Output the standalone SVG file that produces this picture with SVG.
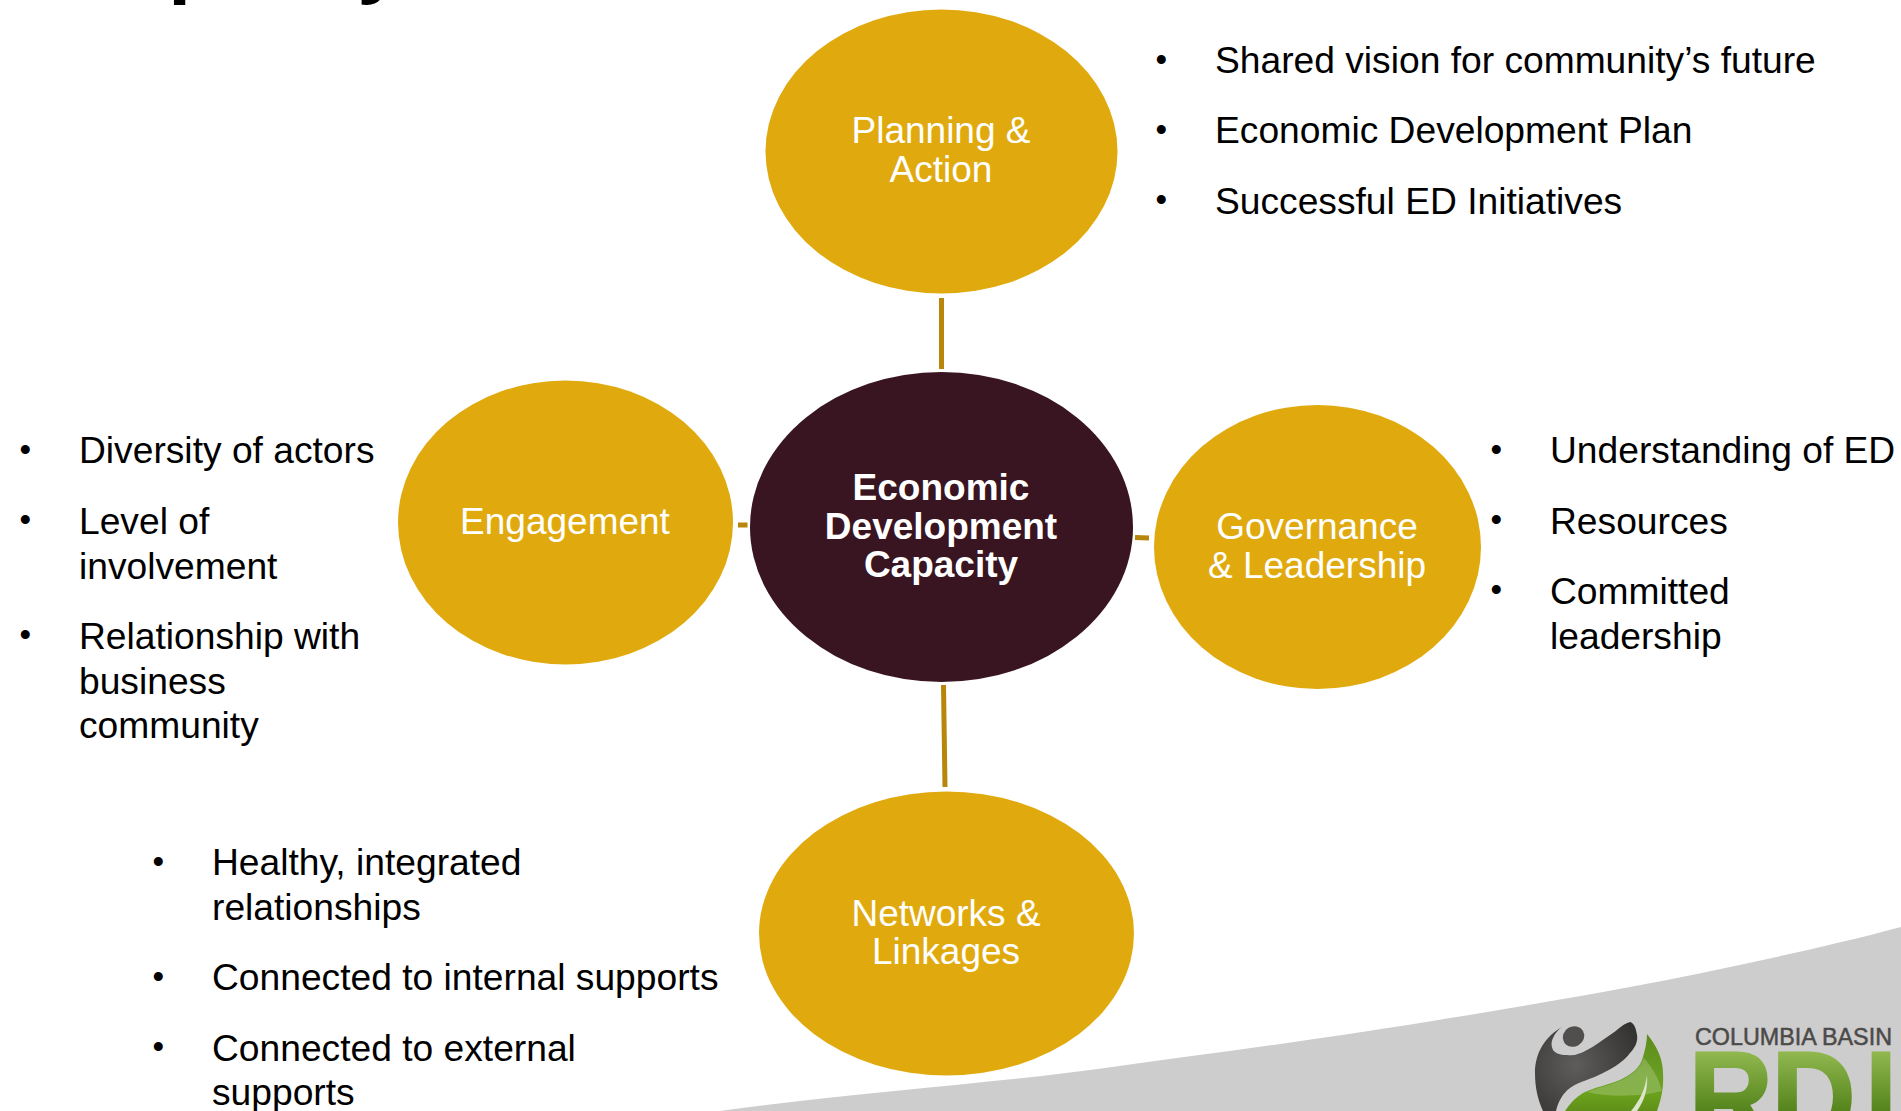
<svg xmlns="http://www.w3.org/2000/svg" width="1901" height="1111" viewBox="0 0 1901 1111">
<style>
text{font-family:"Liberation Sans",Arial,sans-serif}
.g{fill:#e0aa0f}
.n{fill:#fff;font-size:37px;text-anchor:middle}
.c{fill:#fff;font-size:37px;font-weight:bold;text-anchor:middle}
.b{fill:#000;font-size:37.2px}
.d{fill:#000;font-size:33px}
.t{font-family:"Open Sans",sans-serif;font-weight:bold;font-size:76px}
.l{stroke:#b8860b;stroke-width:5;fill:none}
</style>
<defs>
<linearGradient id="gr" gradientUnits="userSpaceOnUse" x1="0" y1="1052" x2="0" y2="1111"><stop offset="0" stop-color="#90b84f"/><stop offset="1" stop-color="#55841c"/></linearGradient>
<linearGradient id="gl" gradientUnits="userSpaceOnUse" x1="0" y1="1034" x2="0" y2="1111"><stop offset="0" stop-color="#5c8c1c"/><stop offset="0.55" stop-color="#6a9e22"/><stop offset="0.8" stop-color="#6aa01c"/><stop offset="1" stop-color="#5f8f18"/></linearGradient>
<radialGradient id="dk" gradientUnits="userSpaceOnUse" cx="1575" cy="1065" r="70"><stop offset="0" stop-color="#5f5d5b"/><stop offset="1" stop-color="#33312f"/></radialGradient>
</defs>
<rect width="1901" height="1111" fill="#fff"/>
<g id="title"><text class="t" x="168" y="-13">p</text><text class="t" x="359" y="-13">y</text></g>
<path id="band" d="M720 1111C860 1092 1000 1083 1105 1068C1230 1051 1350 1035 1450 1018C1530 1005 1600 993 1667 980C1750 963 1830 946 1901 927V1111Z" fill="#cdcdcd"/>
<g id="connectors">
<line class="l" x1="941.5" y1="298" x2="941.5" y2="369"/>
<line class="l" x1="943.5" y1="685" x2="945" y2="787"/>
<line class="l" x1="738" y1="525" x2="747.5" y2="525"/>
<line class="l" x1="1135" y1="537.5" x2="1149" y2="538"/>
</g>
<g id="node-planning"><ellipse class="g" cx="941.5" cy="151.5" rx="176" ry="142"/><text class="n" x="941" y="143">Planning &amp;</text><text class="n" x="941" y="182">Action</text></g>
<g id="node-center"><ellipse cx="941.5" cy="527" rx="191.5" ry="155" fill="#381521"/><text class="c" x="941" y="500">Economic</text><text class="c" x="941" y="539">Development</text><text class="c" x="941" y="577">Capacity</text></g>
<g id="node-engagement"><ellipse class="g" cx="565.5" cy="522.5" rx="167.5" ry="142"/><text class="n" x="565" y="534">Engagement</text></g>
<g id="node-governance"><ellipse class="g" cx="1317.5" cy="547" rx="163.5" ry="142"/><text class="n" x="1317" y="539">Governance</text><text class="n" x="1317" y="578">&amp; Leadership</text></g>
<g id="node-networks"><ellipse class="g" cx="946.5" cy="933.5" rx="187.5" ry="142"/><text class="n" x="946" y="926">Networks &amp;</text><text class="n" x="946" y="964">Linkages</text></g>
<g id="list-planning">
<text class="d" x="1155.5" y="71">•</text><text class="b" x="1215" y="73">Shared vision for community’s future</text>
<text class="d" x="1155.5" y="141">•</text><text class="b" x="1215" y="143">Economic Development Plan</text>
<text class="d" x="1155.5" y="211">•</text><text class="b" x="1215" y="214">Successful ED Initiatives</text>
</g>
<g id="list-engagement">
<text class="d" x="19.5" y="461">•</text><text class="b" x="79" y="463">Diversity of actors</text>
<text class="d" x="19.5" y="531">•</text><text class="b" x="79" y="534">Level of</text><text class="b" x="79" y="579">involvement</text>
<text class="d" x="19.5" y="646">•</text><text class="b" x="79" y="649">Relationship with</text><text class="b" x="79" y="694">business</text><text class="b" x="79" y="738">community</text>
</g>
<g id="list-governance">
<text class="d" x="1490.5" y="461">•</text><text class="b" x="1550" y="463">Understanding of ED</text>
<text class="d" x="1490.5" y="531">•</text><text class="b" x="1550" y="534">Resources</text>
<text class="d" x="1490.5" y="601">•</text><text class="b" x="1550" y="604">Committed</text><text class="b" x="1550" y="649">leadership</text>
</g>
<g id="list-networks">
<text class="d" x="152.5" y="873">•</text><text class="b" x="212" y="875">Healthy, integrated</text><text class="b" x="212" y="920">relationships</text>
<text class="d" x="152.5" y="988">•</text><text class="b" x="212" y="990">Connected to internal supports</text>
<text class="d" x="152.5" y="1058">•</text><text class="b" x="212" y="1061">Connected to external</text><text class="b" x="212" y="1105">supports</text>
</g>
<g id="logo">
<path d="M1562 1027C1546 1036 1535 1052 1535 1073C1535 1088 1538 1100 1543 1111H1556C1558 1102 1563 1093 1570 1088C1580 1081 1592 1079 1603 1073C1615 1067 1624 1061 1630 1053C1636 1047 1638 1040 1637 1035C1636 1028 1634 1023 1630 1022C1622 1024 1618 1030 1610 1035C1602 1040 1595 1046 1587 1050C1580 1054 1574 1056 1567 1055C1560 1055 1555 1053 1553 1050C1551 1046 1551 1042 1553 1038C1555 1033 1559 1029 1562 1027Z" fill="url(#dk)"/>
<ellipse cx="1573.5" cy="1036.5" rx="11" ry="10" transform="rotate(-30 1573.5 1036.5)" fill="#514f4d"/>
<path d="M1647 1034C1656 1045 1663 1058 1663 1073C1664 1088 1661 1100 1657 1111H1565C1570 1103 1576 1097 1583 1093C1595 1087 1608 1085 1620 1080C1632 1074 1640 1068 1643 1057C1645 1050 1647 1042 1647 1034Z" fill="url(#gl)"/>
<path d="M1587 1092C1600 1087 1610 1085 1622 1080C1632 1075 1640 1068 1644 1058C1651 1066 1659 1078 1662 1091C1645 1096 1610 1098 1587 1092Z" fill="#fff" opacity=".2"/>
<path d="M1647 1075C1645 1090 1640 1100 1631 1111H1637C1645 1100 1648 1088 1647 1075Z" fill="#dbe6cb"/>
<text x="1695" y="1045" style="font-size:23.5px;stroke:#4b4a48;stroke-width:.5" fill="#4b4a48" textLength="197" lengthAdjust="spacingAndGlyphs">COLUMBIA BASIN</text>
<text x="1876 1968 2072" y="1142" transform="scale(.9 1)" style="font-size:130px;font-weight:bold;stroke:url(#gr);stroke-width:2" fill="url(#gr)">RDI</text>
</g>
</svg>
